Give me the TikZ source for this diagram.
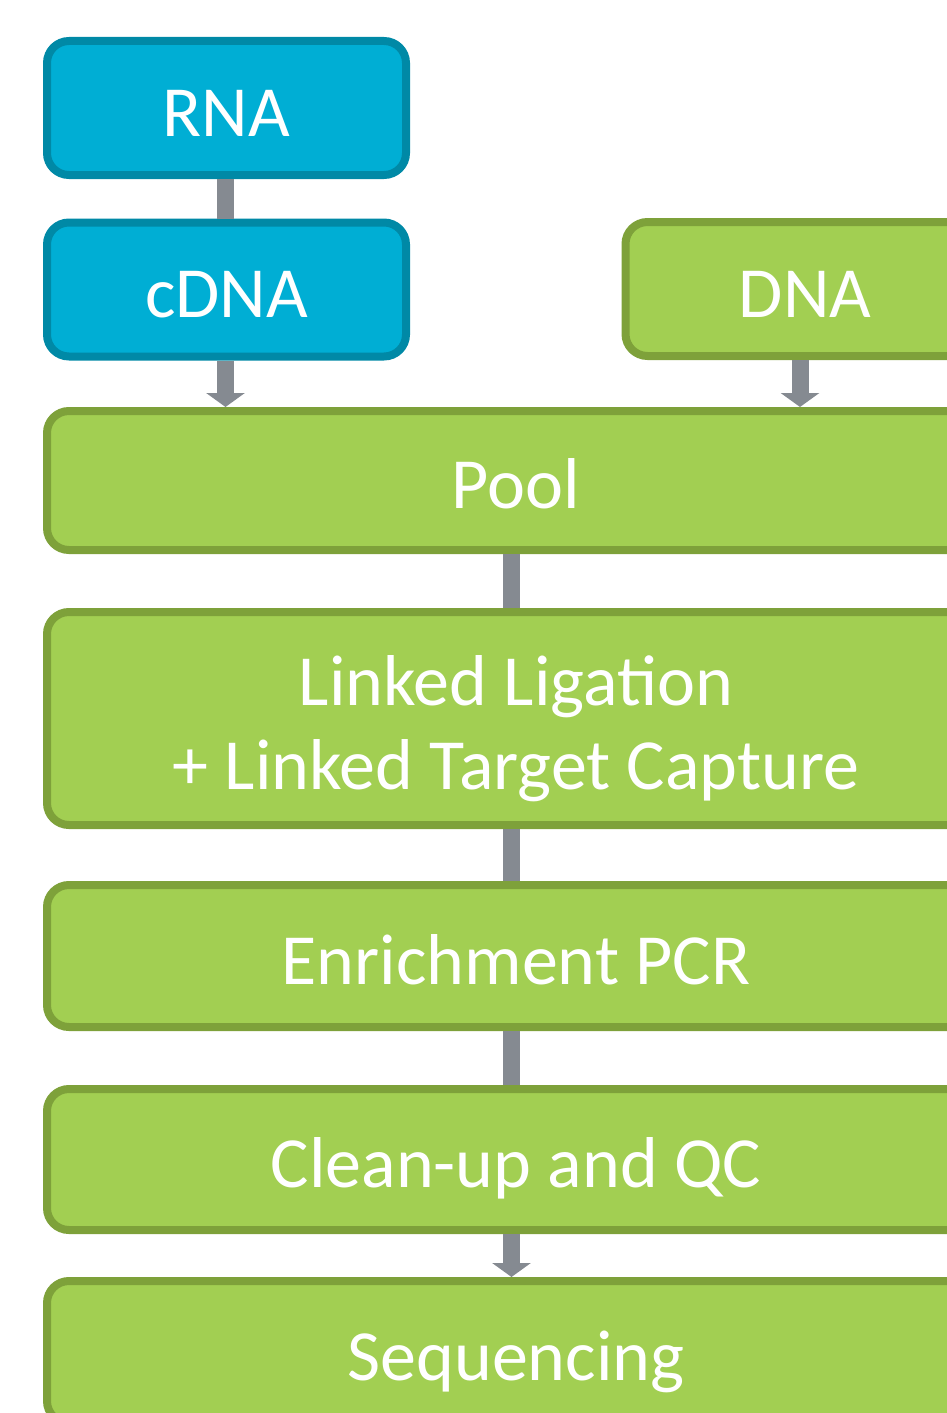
\documentclass[tikz,border=0pt]{standalone}
\usepackage{fontspec}
\setmainfont{Carlito}
\usetikzlibrary{arrows.meta}
\definecolor{rnafill}{HTML}{00AED4}
\definecolor{rnaline}{HTML}{0089A6}
\definecolor{dnafill}{HTML}{A2CF52}
\definecolor{dnaline}{HTML}{7EA13A}
\definecolor{linkgray}{HTML}{858A91}
\begin{document}
\begin{tikzpicture}[x=1pt, y=-1pt,
    stepbox/.style = {draw, line width=8pt, rounded corners=22pt, inner sep=0pt,
                      outer sep=4pt, text=white, font=\fontsize{72}{84}\selectfont},
    oneline/.style = {text height=56pt, text depth=0pt},
    rnabox/.style  = {stepbox, oneline, fill=rnafill, draw=rnaline,
                      minimum width=359pt, minimum height=134pt},
    dnabox/.style  = {stepbox, fill=dnafill, draw=dnaline, minimum width=938pt},
    link/.style    = {draw=linkgray, line width=17pt},
    flow/.style    = {link, -{Triangle[width=38pt, length=14pt]}}]
  \useasboundingbox (0,0) rectangle (947,1413);
  \clip (0,0) rectangle (947,1413);

  \node[rnabox] at (226.5, 108)  (rna)  {RNA};
  \node[rnabox] at (226.5, 289.5) (cdna) {cDNA};
  \node[dnabox, oneline, minimum width=359pt, minimum height=134pt] at (805, 289) (dna) {DNA};
  \node[dnabox, oneline, minimum height=139pt] at (516, 480.5) (pool) {Pool};
  \node[dnabox, align=center, minimum height=213pt] at (516, 718.5) (capture)
       {\rule{0pt}{70pt}Linked Ligation\\+ Linked Target Capture};
  \node[dnabox, oneline, minimum height=142pt] at (516, 956)    (pcr)   {Enrichment PCR};
  \node[dnabox, oneline, minimum height=141pt] at (516, 1159.5) (clean) {Clean-up and QC};
  \node[dnabox, oneline, minimum height=142pt] at (516, 1352)   (seq)   {Sequencing};

  % where the gray links run
  \coordinate (spine) at (511.5, 0);
  \coordinate (left)  at (225.5, 0);
  \coordinate (right) at (800, 0);

  \draw[link] (rna.south -| left) -- (cdna.north -| left);
  \draw[flow] (cdna.south -| left) -- (pool.north -| left);
  \draw[flow] (dna.south -| right) -- (pool.north -| right);
  \draw[link] (pool.south -| spine) -- (capture.north -| spine);
  \draw[link] (capture.south -| spine) -- (pcr.north -| spine);
  \draw[link] (pcr.south -| spine) -- (clean.north -| spine);
  \draw[flow] (clean.south -| spine) -- (seq.north -| spine);
\end{tikzpicture}
\end{document}
